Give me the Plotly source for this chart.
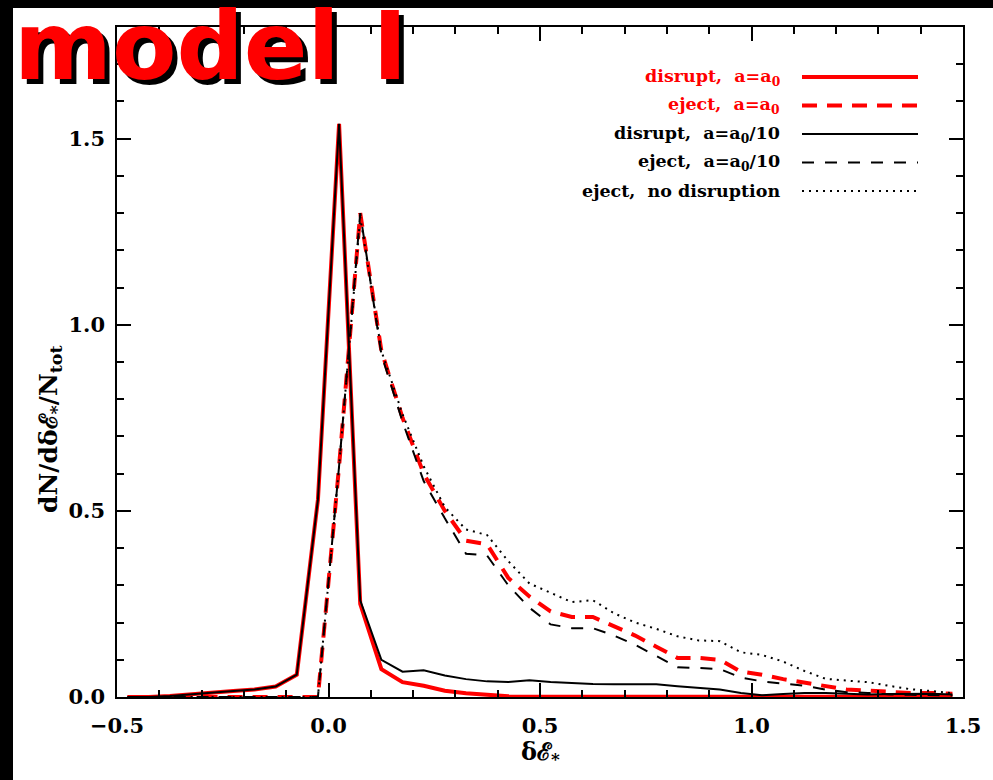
import plotly.graph_objects as go

# ---------------- data ----------------
x_left = [-0.475, -0.425, -0.375, -0.325, -0.275, -0.225, -0.175, -0.125, -0.075]
x_main = [-0.025, 0.025, 0.075, 0.125, 0.175, 0.225, 0.275, 0.325, 0.375, 0.425,
          0.475, 0.525, 0.575, 0.625, 0.675, 0.725, 0.775, 0.825, 0.875, 0.925,
          0.975, 1.025, 1.075, 1.125, 1.175, 1.225, 1.275, 1.325, 1.375, 1.425, 1.475]
x_all = x_left + x_main

disrupt_a0_left = [0.0, 0.0, 0.003, 0.008, 0.012, 0.016, 0.020, 0.028, 0.060]
disrupt_a0_main = [0.53, 1.54, 0.25, 0.075, 0.040, 0.030, 0.017, 0.010, 0.005, 0.002,
                   0.001, 0.001, 0.001, 0.001, 0.001, 0.001, 0.001, 0.001, 0.001, 0.001,
                   0.001, 0.001, 0.001, 0.001, 0.001, 0.001, 0.001, 0.001, 0.001, 0.001, 0.001]

disrupt_a10_left = [0.0, 0.0, 0.003, 0.008, 0.012, 0.016, 0.020, 0.028, 0.060]
disrupt_a10_main = [0.53, 1.54, 0.26, 0.100, 0.068, 0.072, 0.058, 0.048, 0.042, 0.040,
                    0.045, 0.040, 0.037, 0.035, 0.034, 0.034, 0.034, 0.029, 0.025, 0.020,
                    0.011, 0.005, 0.008, 0.011, 0.011, 0.008, 0.007, 0.008, 0.009, 0.009, 0.007]

eject_left = [0.0, 0.0, 0.0, 0.0, 0.0, 0.0, 0.0, 0.0, 0.0]
eject_a0_main = [0.0, 0.62, 1.30, 0.93, 0.75, 0.60, 0.50, 0.42, 0.41, 0.32,
                 0.27, 0.23, 0.215, 0.215, 0.19, 0.165, 0.135, 0.105, 0.105, 0.10,
                 0.068, 0.060, 0.048, 0.038, 0.030, 0.020, 0.017, 0.014, 0.011, 0.011, 0.009]
eject_a10_main = [0.0, 0.62, 1.30, 0.92, 0.74, 0.58, 0.48, 0.385, 0.38, 0.30,
                  0.24, 0.195, 0.185, 0.185, 0.165, 0.14, 0.11, 0.080, 0.078, 0.075,
                  0.052, 0.042, 0.036, 0.030, 0.020, 0.013, 0.011, 0.007, 0.006, 0.006, 0.004]
eject_nodis_main = [0.0, 0.62, 1.29, 0.93, 0.76, 0.62, 0.51, 0.45, 0.435, 0.365,
                    0.305, 0.28, 0.255, 0.26, 0.225, 0.20, 0.183, 0.163, 0.152, 0.150,
                    0.12, 0.113, 0.095, 0.070, 0.049, 0.044, 0.040, 0.030, 0.021, 0.016, 0.010]

legend_labels = ["disrupt,  a=a<sub>0</sub>", "eject,  a=a<sub>0</sub>",
                 "disrupt,  a=a<sub>0</sub>/10", "eject,  a=a<sub>0</sub>/10",
                 "eject,  no disruption"]

x_ticks = [-0.5, 0.0, 0.5, 1.0, 1.5]
y_ticks = [0.0, 0.5, 1.0, 1.5]

# ---------------- styles ----------------
RED = "#ff0000"
BLK = "#000000"
styles = [
    dict(color=RED, width=4, dash="solid"),
    dict(color=RED, width=4, dash="15px,10px"),
    dict(color=BLK, width=2, dash="solid"),
    dict(color=BLK, width=2, dash="12px,11px"),
    dict(color=BLK, width=2, dash="2px,5px"),
]
series = [
    disrupt_a0_left + disrupt_a0_main,
    eject_left + eject_a0_main,
    disrupt_a10_left + disrupt_a10_main,
    eject_left + eject_a10_main,
    eject_left + eject_nodis_main,
]

W, H = 993, 780
L, R, T, B = 117, 30, 27, 83
PW, PH = W - L - R, H - T - B


def px(xp):
    return (xp - L) / PW


def py(yp):
    return (H - B - yp) / PH


fig = go.Figure()
for yv, st, name in zip(series, styles, legend_labels):
    fig.add_trace(go.Scatter(x=x_all, y=yv, mode="lines", line=st, name=name,
                             showlegend=False, hoverinfo="skip"))

SERIF = "DejaVu Serif"
axis_common = dict(
    showline=True, linecolor=BLK, linewidth=1.5, mirror="allticks",
    ticks="inside", ticklen=14, tickwidth=1.5, tickcolor=BLK,
    showgrid=False, zeroline=False, tickformat=".1f",
    tickfont=dict(family=SERIF, size=21, color=BLK, weight="bold"),
)
fig.update_xaxes(range=[-0.5, 1.5], tickvals=x_ticks,
                 minor=dict(dtick=0.1, ticks="inside", ticklen=7, tickwidth=1.5, tickcolor=BLK),
                 ticklabelstandoff=9, **axis_common)
fig.update_yaxes(range=[0, 1.8], tickvals=y_ticks,
                 minor=dict(dtick=0.1, ticks="inside", ticklen=7, tickwidth=1.5, tickcolor=BLK),
                 ticklabelstandoff=6, **axis_common)

annotations = []
shapes = []

# black frame bars of the original picture
shapes.append(dict(type="rect", xref="paper", yref="paper", x0=px(0), x1=px(13),
                   y0=py(H), y1=py(0), fillcolor=BLK, line=dict(width=0), layer="below"))
shapes.append(dict(type="rect", xref="paper", yref="paper", x0=px(0), x1=px(W),
                   y0=py(8), y1=py(0), fillcolor=BLK, line=dict(width=0), layer="below"))

# legend (text left, sample line right)
row_y = [77, 105.5, 134, 162.5, 191]
for i, (lab, st) in enumerate(zip(legend_labels, styles)):
    col = st["color"]
    annotations.append(dict(x=px(782), y=py(row_y[i]), xref="paper", yref="paper",
                            xanchor="right", yanchor="middle", showarrow=False,
                            text=lab, font=dict(family=SERIF, size=17.5, color=col, weight="bold")))
    shapes.append(dict(type="line", xref="paper", yref="paper",
                       x0=px(802), x1=px(918), y0=py(row_y[i]), y1=py(row_y[i]),
                       line=dict(color=col, width=st["width"], dash=st["dash"])))

# axis titles
annotations.append(dict(x=px(540), y=py(753), xref="paper", yref="paper",
                        xanchor="center", yanchor="middle", showarrow=False,
                        text="δℰ<sub>*</sub>",
                        font=dict(family=SERIF, size=24, color=BLK, weight="bold")))
annotations.append(dict(x=px(50), y=py(429), xref="paper", yref="paper",
                        xanchor="center", yanchor="middle", showarrow=False, textangle=-90,
                        text="dN/dδℰ<sub>*</sub>/N<sub>tot</sub>",
                        font=dict(family=SERIF, size=25, color=BLK, weight="bold")))

# big title with drop shadow
for dx, dy, col in [(5, 5, BLK), (0, 0, RED)]:
    annotations.append(dict(x=px(12 + dx), y=py(46 + dy), xref="paper", yref="paper",
                            xanchor="left", yanchor="middle", showarrow=False,
                            text="model I",
                            font=dict(family="DejaVu Sans", size=94, color=col, weight="bold")))

fig.update_layout(
    width=W, height=H, margin=dict(l=L, r=R, t=T, b=B, pad=0),
    paper_bgcolor="white", plot_bgcolor="white",
    showlegend=False, annotations=annotations, shapes=shapes,
)

fig.write_html("out.html")
